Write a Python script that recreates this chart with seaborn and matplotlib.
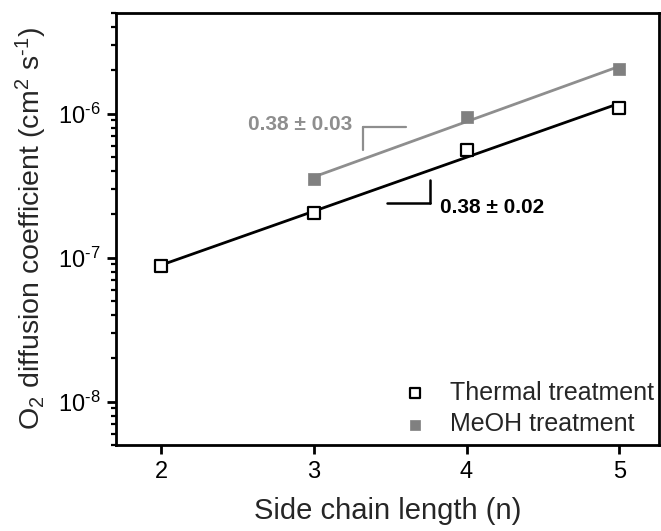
import numpy as np
import pandas as pd
import matplotlib
matplotlib.use("Agg")
import matplotlib.pyplot as plt
import seaborn as sns

# ---- data ----
n_thermal = [2, 3, 4, 5]
D_thermal = [8.7e-8, 2.04e-7, 5.6e-7, 1.10e-6]
n_meoh = [3, 4, 5]
D_meoh = [3.5e-7, 9.5e-7, 2.05e-6]
slope_thermal_label = "0.38 ± 0.02"
slope_meoh_label = "0.38 ± 0.03"
x_ticks = [2, 3, 4, 5]

sns.set_theme(style="ticks")
plt.rcParams["font.family"] = ["Liberation Sans", "DejaVu Sans"]
plt.rcParams["mathtext.fontset"] = "custom"
plt.rcParams["mathtext.rm"] = "Liberation Sans"
plt.rcParams["mathtext.it"] = "Liberation Sans:italic"
plt.rcParams["mathtext.bf"] = "Liberation Sans:bold"
plt.rcParams["mathtext.default"] = "regular"

GRAY_M = "#808080"
GRAY_L = "#8e8e8e"

fig = plt.figure(figsize=(6.61, 5.31), dpi=100)
ax = fig.add_axes([116/661, 1-445/531, (659-116)/661, (445-13)/531])

dft = pd.DataFrame({"n": n_thermal, "D": D_thermal})
dfm = pd.DataFrame({"n": n_meoh, "D": D_meoh})

# fit lines (log-linear)
for df, col in ((dft, "black"), (dfm, GRAY_L)):
    p = np.polyfit(df["n"], np.log10(df["D"]), 1)
    xx = np.array([df["n"].min(), df["n"].max()])
    fit = pd.DataFrame({"n": xx, "D": 10 ** np.polyval(p, xx)})
    sns.lineplot(data=fit, x="n", y="D", ax=ax, color=col, lw=2.0, zorder=2)

sns.scatterplot(data=dft, x="n", y="D", ax=ax, marker="s", s=70,
                facecolor="white", edgecolor="black", linewidth=1.6,
                label="Thermal treatment", zorder=3)
sns.scatterplot(data=dfm, x="n", y="D", ax=ax, marker="s", s=80,
                color=GRAY_M, edgecolor=GRAY_M, linewidth=0.5,
                label="MeOH treatment", zorder=3)

ax.set_yscale("log")
ax.set_xlim(1.705, 5.26)
ax.set_ylim(5e-9, 5e-6)
ax.set_xticks(x_ticks)
ax.set_xticklabels([str(v) for v in x_ticks])
ax.xaxis.set_minor_locator(matplotlib.ticker.NullLocator())
ax.yaxis.set_major_locator(matplotlib.ticker.LogLocator(base=10, numticks=10))
ax.yaxis.set_minor_locator(matplotlib.ticker.LogLocator(base=10, subs=np.arange(2, 10), numticks=20))
ax.yaxis.set_minor_formatter(matplotlib.ticker.NullFormatter())

def fmt(v, pos):
    e = int(round(np.log10(v)))
    if e < 0:
        return r"10$^{\text{-}%d}$" % (-e)
    return r"10$^{%d}$" % e

ax.yaxis.set_major_formatter(matplotlib.ticker.FuncFormatter(fmt))

for s in ax.spines.values():
    s.set_linewidth(2.0)
    s.set_color("black")
ax.tick_params(axis="both", which="major", direction="out", length=6.5, width=2.0,
               labelsize=17, colors="black", pad=5)
ax.tick_params(axis="y", which="minor", direction="out", length=3.6, width=1.6, colors="black")
ax.tick_params(top=False, right=False, which="both")

ax.set_xlabel("Side chain length (n)", fontsize=21, labelpad=10)
ax.set_ylabel(r"O$_2$ diffusion coefficient (cm$^2$ s$^{\text{-}1}$)", fontsize=20.5, labelpad=6)

# slope triangles
ax.plot([3.478, 3.762], [10**-6.619, 10**-6.619], color="black", lw=1.8)
ax.plot([3.762, 3.762], [10**-6.619, 10**-6.462], color="black", lw=1.8)
ax.text(3.827, 10**-6.655, slope_thermal_label, fontsize=15, fontweight="bold",
        color="black", ha="left", va="center")

ax.plot([3.325, 3.604], [10**-6.094, 10**-6.094], color=GRAY_L, lw=1.6)
ax.plot([3.325, 3.325], [10**-6.094, 10**-6.255], color=GRAY_L, lw=1.6)
ax.text(3.251, 10**-6.076, slope_meoh_label, fontsize=15, fontweight="bold",
        color=GRAY_L, ha="right", va="center")

leg = ax.legend(loc="lower right", bbox_to_anchor=(1.0, 0.009), frameon=False,
                fontsize=18, handletextpad=0.9, labelspacing=0.3,
                borderaxespad=0.0, borderpad=0.2, handlelength=1.0, markerscale=0.8)

fig.savefig("out.png", dpi=100)
